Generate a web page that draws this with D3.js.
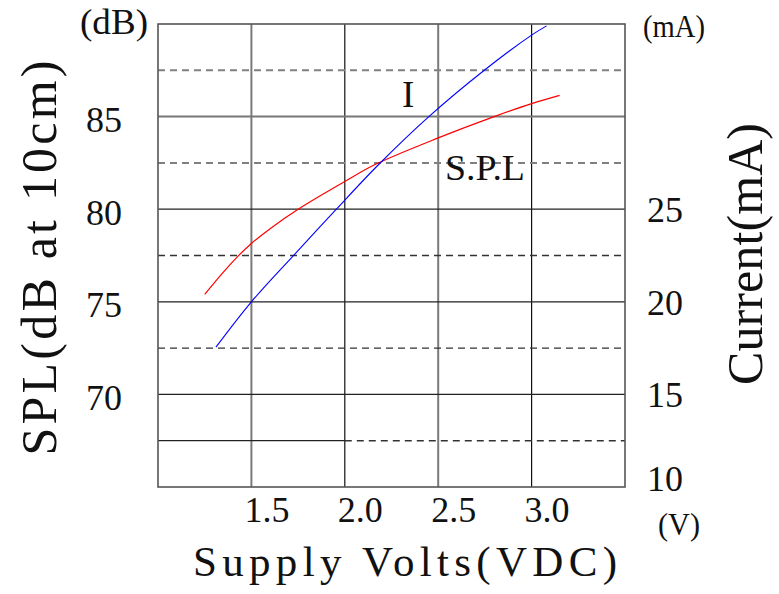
<!DOCTYPE html>
<html>
<head>
<meta charset="utf-8">
<script src="https://cdn.jsdelivr.net/npm/d3@7/dist/d3.min.js"></script>
<style>
  html, body { margin: 0; padding: 0; background: #fff; }
  svg { display: block; }
  text { font-family: "Liberation Serif", "DejaVu Serif", serif; fill: #111; }
</style>
</head>
<body>
<svg id="chart" width="779" height="594"></svg>
<script>
// ---- data ----
const voltTicks = [1.5, 2.0, 2.5, 3.0];
const splTicks = [70, 75, 80, 85];
const splDashed = [67.5, 72.5, 77.5, 82.5, 87.5];
const currentTicks = [10, 15, 20, 25];

const splVolts  = [1.25, 1.35, 1.43, 1.5, 1.6, 1.75, 2.0, 2.17, 2.5, 2.8, 3.0, 3.15];
const splValues = [75.4, 76.6, 77.48, 78.15, 78.95, 80.0, 81.5, 82.45, 83.85, 85.0, 85.7, 86.15];

const curVolts  = [1.31, 1.5, 1.73, 1.95, 2.18, 2.45, 2.74, 3.0, 3.08];
const curValues = [17.55, 20.0, 22.55, 24.95, 27.4, 30.0, 32.45, 34.4, 34.9];

// ---- layout ----
const svg = d3.select("#chart");
const L = 158, R = 625, T = 24, B = 487;

const x = d3.scaleLinear().domain([1.0, 3.5]).range([L, R]);
const ySpl = d3.scaleLinear().domain([65, 90]).range([B, T]);
const yCur = d3.scaleLinear().domain([10, 35]).range([B, T]);

const grid = svg.append("g");

// vertical grid
grid.selectAll("line.v").data(voltTicks).enter().append("line")
  .attr("x1", d => x(d)).attr("x2", d => x(d))
  .attr("y1", T).attr("y2", B)
  .attr("stroke", (d, i) => i % 2 === 0 ? "#7a7a7a" : "#111")
  .attr("stroke-width", (d, i) => i % 2 === 0 ? 2 : 1.2);

// horizontal solid grid
grid.selectAll("line.h").data(splTicks).enter().append("line")
  .attr("x1", L).attr("x2", R)
  .attr("y1", d => ySpl(d)).attr("y2", d => ySpl(d))
  .attr("stroke", d => d === 85 ? "#777" : "#222")
  .attr("stroke-width", d => d === 85 ? 2 : 1.3);

// dashed grid (the lowest one is solid on its left part)
splDashed.forEach(d => {
  const solidPart = d === 67.5;
  if (solidPart) {
    grid.append("line")
      .attr("x1", L).attr("x2", x(2.0))
      .attr("y1", ySpl(d)).attr("y2", ySpl(d))
      .attr("stroke", "#222").attr("stroke-width", 1.3);
  }
  grid.append("line")
    .attr("x1", solidPart ? x(2.0) : L).attr("x2", R)
    .attr("y1", ySpl(d)).attr("y2", ySpl(d))
    .attr("stroke", d > 80 ? "#808080" : "#333")
    .attr("stroke-width", d > 80 ? 2 : 1.4)
    .attr("stroke-dasharray", "7,5");
});

// frame
svg.append("rect")
  .attr("x", L).attr("y", T).attr("width", R - L).attr("height", B - T)
  .attr("fill", "none").attr("stroke", "#555").attr("stroke-width", 1.6);

// curves
const splLine = d3.line().x(d => x(d[0])).y(d => ySpl(d[1])).curve(d3.curveCatmullRom.alpha(0.5));
const curLine = d3.line().x(d => x(d[0])).y(d => yCur(d[1])).curve(d3.curveCatmullRom.alpha(0.5));

svg.append("path")
  .datum(splVolts.map((v, i) => [v, splValues[i]]))
  .attr("d", splLine).attr("fill", "none")
  .attr("stroke", "#ff0000").attr("stroke-width", 1.2);

svg.append("path")
  .datum(curVolts.map((v, i) => [v, curValues[i]]))
  .attr("d", curLine).attr("fill", "none")
  .attr("stroke", "#0000ff").attr("stroke-width", 1.1);

// axes (labels only)
const leftAxis = svg.append("g").attr("transform", `translate(${L},0)`)
  .call(d3.axisLeft(ySpl).tickValues(splTicks).tickSize(0).tickPadding(36));
leftAxis.select(".domain").remove();
leftAxis.selectAll("text")
  .attr("font-family", "Liberation Serif").attr("font-size", 36)
  .attr("fill", "#111").attr("dy", "0.42em");

const bottomAxis = svg.append("g").attr("transform", `translate(0,${B})`)
  .call(d3.axisBottom(x).tickValues(voltTicks).tickFormat(d3.format(".1f")).tickSize(0));
bottomAxis.select(".domain").remove();
bottomAxis.selectAll("text")
  .attr("font-family", "Liberation Serif").attr("font-size", 36)
  .attr("fill", "#111").attr("x", 15).attr("y", 35).attr("dy", 0);

const rightAxis = svg.append("g").attr("transform", `translate(${R},0)`)
  .call(d3.axisRight(yCur).tickValues(currentTicks).tickSize(0).tickPadding(22));
rightAxis.select(".domain").remove();
rightAxis.selectAll("text")
  .attr("font-family", "Liberation Serif").attr("font-size", 36)
  .attr("fill", "#111").attr("dy", d => d === 10 ? "0.1em" : "0.34em");

// unit labels
svg.append("text").attr("x", 80).attr("y", 34).attr("font-size", 36)
  .attr("textLength", 68).attr("lengthAdjust", "spacingAndGlyphs").text("(dB)");
svg.append("text").attr("x", 643).attr("y", 37).attr("font-size", 32)
  .attr("textLength", 62).attr("lengthAdjust", "spacingAndGlyphs").text("(mA)");
svg.append("text").attr("x", 658).attr("y", 535).attr("font-size", 32)
  .attr("textLength", 42).attr("lengthAdjust", "spacingAndGlyphs").text("(V)");

// series labels
svg.append("text").attr("x", 402).attr("y", 107).attr("font-size", 37).text("I");
svg.append("text").attr("x", 445).attr("y", 180).attr("font-size", 36)
  .attr("textLength", 80).attr("lengthAdjust", "spacingAndGlyphs").text("S.P.L");

// axis titles
svg.append("text")
  .attr("text-anchor", "middle")
  .attr("transform", "translate(56,258) rotate(-90)")
  .attr("font-size", 50)
  .attr("textLength", 395).attr("lengthAdjust", "spacing")
  .text("SPL(dB at 10cm)");

svg.append("text")
  .attr("text-anchor", "middle")
  .attr("transform", "translate(762,254) rotate(-90)")
  .attr("font-size", 50)
  .attr("textLength", 262).attr("lengthAdjust", "spacing")
  .text("Current(mA)");

svg.append("text")
  .attr("text-anchor", "middle")
  .attr("x", 405).attr("y", 576)
  .attr("font-size", 43)
  .attr("textLength", 424).attr("lengthAdjust", "spacing")
  .text("Supply Volts(VDC)");
</script>
</body>
</html>
